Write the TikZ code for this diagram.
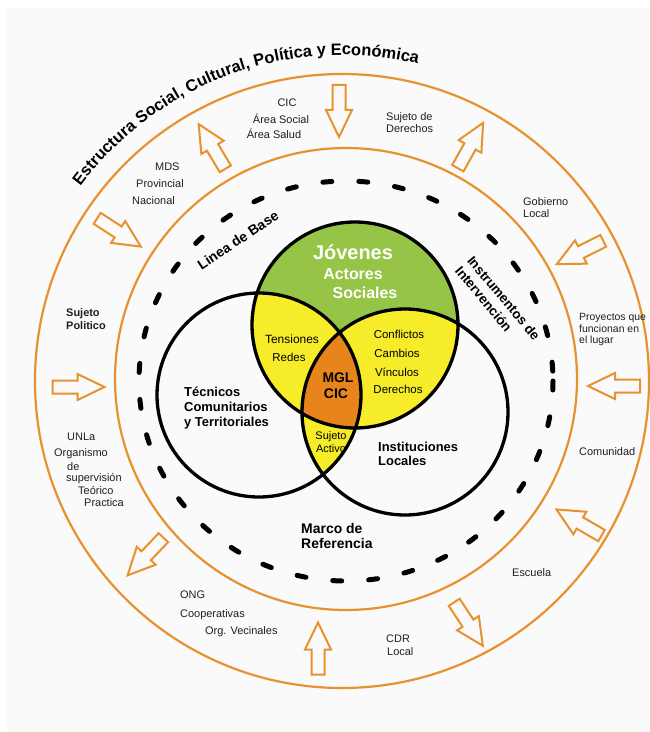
\documentclass[tikz,border=0pt]{standalone}
\usepackage{fontspec}
\setmainfont{Liberation Sans}
\usetikzlibrary{decorations.text}
\definecolor{ringorange}{HTML}{E8912F}
\definecolor{venngreen}{HTML}{96C446}
\definecolor{vennyellow}{HTML}{F6EC2A}
\definecolor{vennorange}{HTML}{E8841C}
\newcommand\titlefont{\bfseries\fontsize{16.5}{18}\selectfont}
\newcommand\blockarrow[3]{\draw[blockarrowsty, shift={(#1,#2)}, rotate=#3] (-26,-6.5) -- (-1,-6.5) -- (-1,-13) -- (26,0) -- (-1,13) -- (-1,6.5) -- (-26,6.5) -- cycle;}
\begin{document}
\begin{tikzpicture}[x=1bp,y=-1bp,
  ringline/.style={draw=ringorange, line width=2.2bp},
  blockarrowsty/.style={draw=ringorange, line width=2bp, line join=miter},
  vennline/.style={draw=black, line width=3.3bp},
  rtxt/.style={font=\fontsize{11}{12}\selectfont, inner sep=0pt, text=black!88},
  btxt/.style={font=\bfseries\fontsize{13}{15}\selectfont, inner sep=0pt, text=black},
  wtxt/.style={font=\bfseries\fontsize{16}{18}\selectfont, inner sep=0pt, text=white},
  ntxt/.style={font=\fontsize{11.5}{13}\selectfont, inner sep=0pt, text=black},
]
\useasboundingbox (0,0) rectangle (650,732);
\fill[white] (0,0) rectangle (650,732);
\fill[black!2] (7,8) rectangle (650,732);

\coordinate (O) at (342,381);
\coordinate (Oi) at (346,379);
\coordinate (Od) at (346,381);
\coordinate (G) at (355,325);
\coordinate (L) at (259,395);
\coordinate (R) at (405,412);

% rings
\draw[ringline] (O) circle (307);
\draw[ringline] (Oi) circle (231);
\draw[line width=5bp, line cap=round, dash pattern=on 9bp off 27bp] (Od) ellipse [x radius=207, y radius=200];

% title along the outer ring
\path[decorate, decoration={text along path, text={|\titlefont|Estructura Social, Cultural, Política y Económica}, text align=center}]
  (59.7,218) arc[start angle=-150, end angle=-70, radius=326];

% Venn fills
\fill[venngreen] (G) circle (103);
\begin{scope}
  \clip (G) circle (103);
  \fill[vennyellow] (L) circle (102);
  \fill[vennyellow] (R) circle (103);
\end{scope}
\begin{scope}
  \clip (L) circle (102);
  \fill[vennyellow] (R) circle (103);
  \clip (G) circle (103);
  \fill[vennorange] (R) circle (103);
\end{scope}
\draw[vennline] (G) circle (103) (L) circle (102) (R) circle (103);

% block arrows
\blockarrow{339}{111}{-90}
\blockarrow{212}{146.5}{120.8}
\blockarrow{470.5}{145.5}{60.9}
\blockarrow{119}{232.5}{-32.9}
\blockarrow{580}{252.5}{-153.4}
\blockarrow{78.5}{387}{0}
\blockarrow{614}{386}{180}
\blockarrow{145.5}{556.5}{-133.5}
\blockarrow{579}{522.5}{149.9}
\blockarrow{318}{648.5}{90}
\blockarrow{468.5}{624}{-56.6}

% ring texts
\node[rtxt] (cic1) at (287,103) {CIC};
\node[rtxt] (cic2) at (281,119) {Área Social};
\node[rtxt] (cic3) at (274,134) {Área Salud};
\node[rtxt, anchor=west, align=left] (sder) at (386,122.5) {Sujeto de\\Derechos};
\node[rtxt, anchor=west] (mds) at (155,167) {MDS};
\node[rtxt, anchor=west] (prov) at (136,184) {Provincial};
\node[rtxt, anchor=west] (nac) at (132,201) {Nacional};
\node[rtxt, anchor=west, align=left] (gob) at (523,208) {Gobierno\\Local};
\node[rtxt, font=\bfseries\fontsize{11}{13}\selectfont, anchor=west, align=left] (spol) at (66,319.5) {Sujeto\\Politico};
\node[rtxt, font=\fontsize{10.5}{11.5}\selectfont, anchor=west, align=left] (proy) at (579,329.5) {Proyectos que\\funcionan en\\el lugar};
\node[rtxt, anchor=west] (unla) at (67,437) {UNLa};
\node[rtxt, anchor=west] (orgs) at (54,454) {Organismo};
\node[rtxt, anchor=west] (orgde) at (67,467) {de};
\node[rtxt, anchor=west] (sup) at (66,479) {supervisión};
\node[rtxt, anchor=west] (teo) at (78,491) {Teórico};
\node[rtxt, anchor=west] (prac) at (84,503) {Practica};
\node[rtxt, anchor=west] (com) at (579,452) {Comunidad};
\node[rtxt, anchor=west] (esc) at (512,573) {Escuela};
\node[rtxt, anchor=west] (ong) at (180,595) {ONG};
\node[rtxt, anchor=west] (coop) at (180,615) {Cooperativas};
\node[rtxt, anchor=west] (orgv) at (205,632) {Org. Vecinales};
\node[rtxt, anchor=west] (cdr) at (386,639) {CDR};
\node[rtxt, anchor=west] (cdrl) at (387,652) {Local};

% inner bold texts
\node[btxt, font=\bfseries\fontsize{14}{16}\selectfont, rotate=33.5] (lbase) at (238,240) {Linea de Base};
\node[btxt, font=\bfseries\fontsize{13.5}{16}\selectfont, rotate=-50, anchor=west, align=left] (instr) at (464,263) {Instrumentos de\\Intervención};
\node[btxt, font=\bfseries\fontsize{14}{16}\selectfont, anchor=west, align=left] (marco) at (301,536) {Marco de\\Referencia};

% Venn texts
\node[wtxt, font=\bfseries\fontsize{20}{22}\selectfont] (jov) at (353,252) {Jóvenes};
\node[wtxt] (act) at (353,274) {Actores};
\node[wtxt] (soc) at (365,293) {Sociales};
\node[ntxt, font=\fontsize{12}{14}\selectfont] (ten) at (292,339) {Tensiones};
\node[ntxt] (red) at (289,357) {Redes};
\node[btxt, font=\bfseries\fontsize{14}{16}\selectfont] (mgl) at (338,378) {MGL};
\node[btxt, font=\bfseries\fontsize{14}{16}\selectfont] (cicc) at (336,394) {CIC};
\node[ntxt] (conf) at (399,334) {Conflictos};
\node[ntxt] (camb) at (397,353) {Cambios};
\node[ntxt] (vinc) at (397,372) {Vínculos};
\node[ntxt] (dere) at (398,389) {Derechos};
\node[btxt, anchor=west, align=left] (tec) at (184,408) {Técnicos\\Comunitarios\\y Territoriales};
\node[ntxt, font=\fontsize{11}{13}\selectfont, align=center] (sact) at (331,442.5) {Sujeto\\Activo};
\node[btxt, font=\bfseries\fontsize{13}{14}\selectfont, anchor=west, align=left] (inst) at (378,454) {Instituciones\\Locales};
\end{tikzpicture}
\end{document}
